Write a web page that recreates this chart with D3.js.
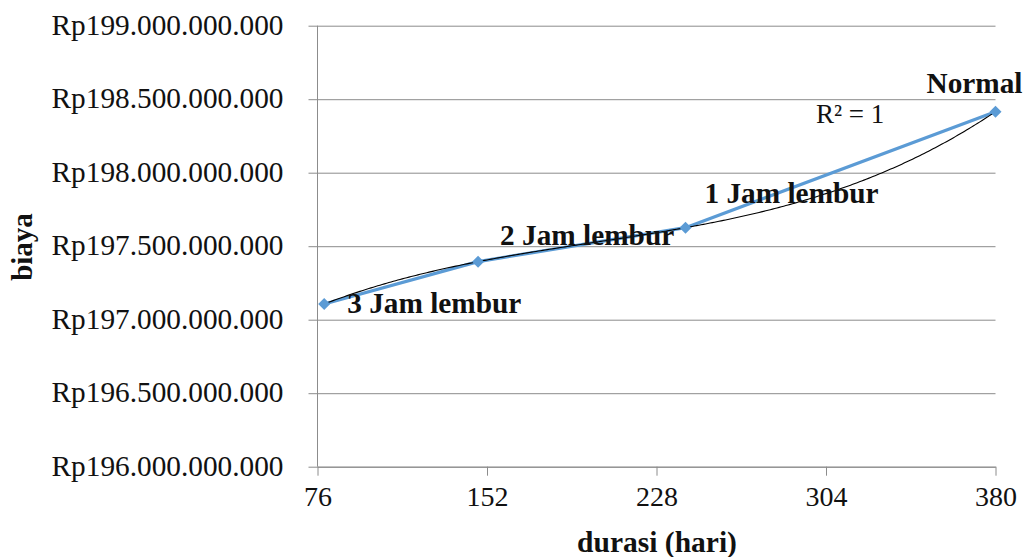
<!DOCTYPE html>
<html>
<head>
<meta charset="utf-8">
<script src="https://cdn.jsdelivr.net/npm/d3@7"></script>
<style>
  html, body { margin: 0; padding: 0; background: #fff; }
  svg { display: block; font-family: "Liberation Serif", "Times New Roman", serif; }
</style>
</head>
<body>
<svg id="chart" width="1032" height="557"></svg>
<script>
// Project duration (days) vs total cost for each overtime scenario
const scenarios = ["3 Jam lembur", "2 Jam lembur", "1 Jam lembur", "Normal"];
const durations = [79, 148, 241, 380];
const costs = [197107000000, 197395000000, 197626000000, 198415000000];

const xTicks = [76, 152, 228, 304, 380];
const yTicks = [196000000000, 196500000000, 197000000000, 197500000000,
                198000000000, 198500000000, 199000000000];

const svg = d3.select("#chart");
const margin = { left: 317.5, right: 995.5, top: 25.7, bottom: 466.7 };

const x = d3.scaleLinear().domain([76, 380]).range([margin.left, margin.right]);
const y = d3.scaleLinear().domain([196000000000, 199000000000]).range([margin.bottom, margin.top]);

const idLocale = d3.formatLocale({ decimal: ",", thousands: ".", grouping: [3], currency: ["Rp", ""] });
const fmtRp = idLocale.format("$,.0f");

const gridColor = "#8c8c8c";

// horizontal gridlines + y axis ticks/labels
const yAxis = d3.axisLeft(y).tickValues(yTicks).tickFormat(fmtRp)
  .tickSize(-(margin.right - margin.left)).tickSizeOuter(0).tickPadding(34);
const gy = svg.append("g").attr("transform", `translate(${margin.left},0)`).call(yAxis);
gy.select(".domain").remove();
gy.selectAll(".tick line").attr("stroke", gridColor).attr("x1", -9).attr("stroke-width", 1);
gy.selectAll(".tick text").attr("font-size", 29.3).attr("fill", "#111")
  .attr("font-family", "Liberation Serif, serif").attr("dy", "0.3em");

// vertical axis line
svg.append("line").attr("x1", margin.left).attr("x2", margin.left)
  .attr("y1", margin.top).attr("y2", margin.bottom).attr("stroke", gridColor);

// x axis
const xAxis = d3.axisBottom(x).tickValues(xTicks).tickFormat(d3.format("d"))
  .tickSize(9).tickSizeOuter(0).tickPadding(10);
const gx = svg.append("g").attr("transform", `translate(0,${margin.bottom})`).call(xAxis);
gx.select(".domain").attr("stroke", gridColor);
gx.selectAll(".tick line").attr("stroke", gridColor);
gx.selectAll(".tick text").attr("font-size", 28).attr("fill", "#111")
  .attr("font-family", "Liberation Serif, serif");

// data series
const pts = durations.map((d, i) => ({ x: d, y: costs[i], name: scenarios[i] }));

svg.append("path").datum(pts)
  .attr("fill", "none").attr("stroke", "#5b9bd5").attr("stroke-width", 3.2)
  .attr("stroke-linejoin", "round")
  .attr("d", d3.line().x(d => x(d.x)).y(d => y(d.y)));

// order-3 polynomial trendline (passes through all four points, R² = 1)
function poly(t) {
  let s = 0;
  for (let i = 0; i < durations.length; i++) {
    let term = costs[i];
    for (let j = 0; j < durations.length; j++) {
      if (j !== i) term *= (t - durations[j]) / (durations[i] - durations[j]);
    }
    s += term;
  }
  return s;
}
const trend = d3.range(durations[0], durations[durations.length - 1] + 0.5, 1)
  .map(t => ({ x: t, y: poly(t) }));
svg.append("path").datum(trend)
  .attr("fill", "none").attr("stroke", "#000").attr("stroke-width", 1.1)
  .attr("d", d3.line().x(d => x(d.x)).y(d => y(d.y)));

// diamond markers
svg.selectAll(".marker").data(pts).enter().append("path")
  .attr("class", "marker")
  .attr("transform", d => `translate(${x(d.x)},${y(d.y)})`)
  .attr("d", "M0,-6L6,0L0,6L-6,0Z")
  .attr("fill", "#5b9bd5");

// scenario labels
const labelOffsets = [[23, 9], [22, -17], [19, -25], [-69, -19]];
svg.selectAll(".lbl").data(pts).enter().append("text")
  .attr("class", "lbl")
  .attr("x", (d, i) => x(d.x) + labelOffsets[i][0])
  .attr("y", (d, i) => y(d.y) + labelOffsets[i][1])
  .attr("font-size", 29.3).attr("font-weight", "bold").attr("fill", "#111")
  .text(d => d.name);

// trendline equation fit
svg.append("text").attr("x", 816).attr("y", 123)
  .attr("font-size", 27).attr("fill", "#111").text("R² = 1");

// axis titles
svg.append("text").attr("x", 657).attr("y", 552)
  .attr("text-anchor", "middle").attr("font-size", 29.5).attr("font-weight", "bold")
  .attr("fill", "#111").text("durasi (hari)");
svg.append("text").attr("transform", "translate(32,247) rotate(-90)")
  .attr("text-anchor", "middle").attr("font-size", 29).attr("font-weight", "bold")
  .attr("fill", "#111").text("biaya");
</script>
</body>
</html>
